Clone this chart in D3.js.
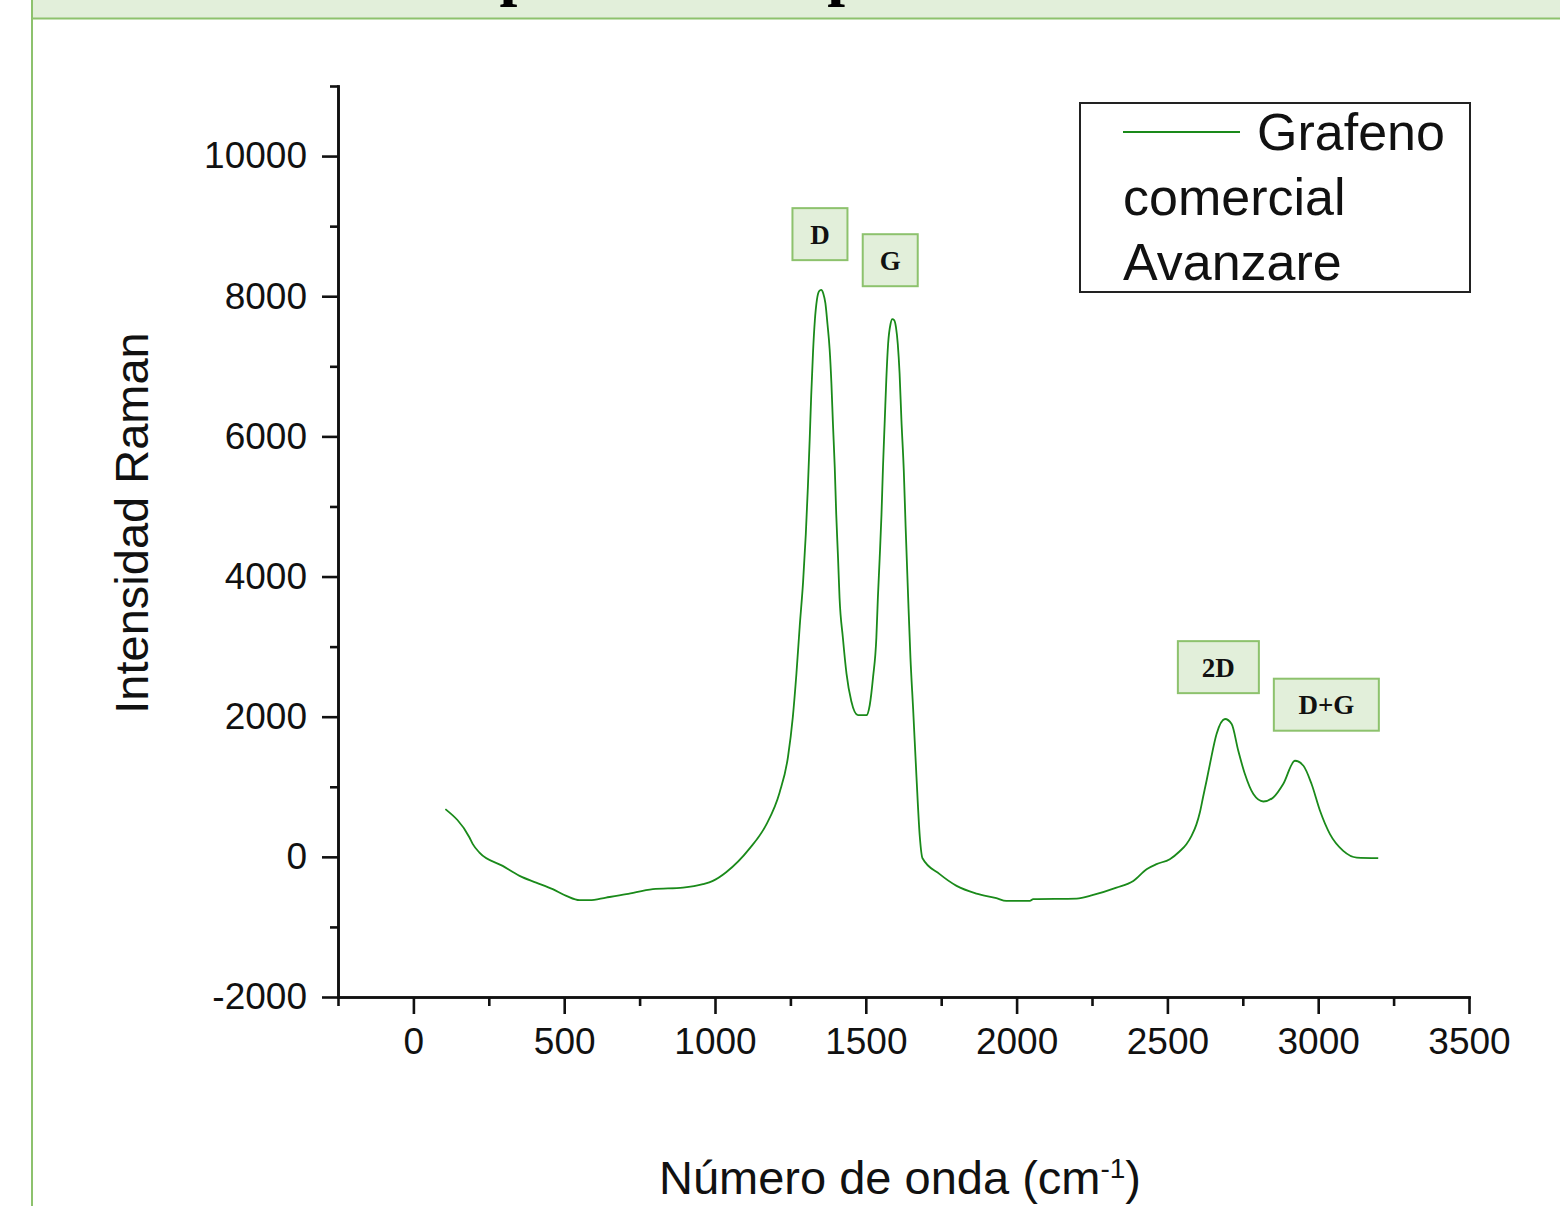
<!DOCTYPE html>
<html>
<head>
<meta charset="utf-8">
<script src="https://cdnjs.cloudflare.com/ajax/libs/d3/7.8.5/d3.min.js"></script>
<style>
  body { margin: 0; background: #fff; }
  svg { display: block; }
  .axis text { font-family: "Liberation Sans", Arial, sans-serif; font-size: 37px; fill: #111; }
  .axis path, .axis line { stroke: #111; stroke-width: 2.6px; }
  .label { font-family: "Liberation Sans", Arial, sans-serif; font-size: 47px; fill: #111; }
  .legend text { font-family: "Liberation Sans", Arial, sans-serif; font-size: 52px; fill: #111; }
  .peak text { font-family: "Liberation Serif", "Times New Roman", serif; font-weight: bold; font-size: 27px; fill: #111; }
</style>
</head>
<body>
<div class="RamanChart"></div>
<script>
// Raman spectrum of commercial graphene
var wavenumber = [106, 186, 197, 219, 296, 352, 407, 462, 507, 551, 584, 639, 706, 794, 894, 960, 993,
  1037, 1115, 1170, 1214, 1242, 1258, 1270, 1281, 1292, 1301, 1308, 1314, 1319, 1325, 1331, 1338,
  1345, 1352, 1359, 1366, 1373, 1380, 1386, 1391, 1397, 1402, 1408, 1413, 1424, 1436, 1452, 1474,
  1502, 1513, 1524, 1535, 1540, 1546, 1552, 1557, 1563, 1568, 1574, 1582, 1588, 1594, 1600, 1606,
  1612, 1618, 1626, 1632, 1640, 1648, 1657, 1668, 1679, 1688, 1745, 1801, 1867, 1933, 1966, 2044,
  2055, 2199, 2254, 2331, 2387, 2431, 2464, 2508, 2541, 2563, 2580, 2596, 2608, 2618, 2630, 2641,
  2663, 2691, 2713, 2735, 2757, 2785, 2818, 2851, 2884, 2923, 2951, 2978, 3006, 3039, 3083, 3128, 3199];
var intensity = [681, 276, 181, 61, -129, -271, -367, -461, -557, -619, -619, -581, -533, -461, -439, -390, -343,
  -219, 121, 461, 916, 1426, 1993, 2616, 3297, 3920, 4600, 5281, 5961, 6584, 7200, 7650, 7950,
  8070, 8090, 8040, 7900, 7600, 7250, 6754, 6187, 5564, 4884, 4260, 3693, 3127, 2616, 2220, 2021,
  2021, 2163, 2560, 3127, 3693, 4260, 4884, 5564, 6244, 6811, 7321, 7604, 7673, 7660, 7560, 7320,
  6900, 6244, 5507, 4714, 3750, 2843, 2106, 1143, 291, -20, -247, -414, -524, -590, -629, -629,
  -604, -596, -543, -439, -343, -176, -104, -33, 80, 181, 300, 460, 640, 847, 1090, 1324,
  1753, 1967, 1896, 1514, 1181, 896, 790, 847, 1039, 1371, 1300, 1039, 657, 324, 86, -10, -19];

var peakLabels = ["D", "G", "2D", "D+G"];
var peakLabelX = [1348, 1581, 2669, 3027];
var peakLabelY = [8886, 8514, 2707, 2171];

var xTicks = [0, 500, 1000, 1500, 2000, 2500, 3000, 3500];
var xMinorTicks = [-250, 250, 750, 1250, 1750, 2250, 2750, 3250];
var yTicks = [-2000, 0, 2000, 4000, 6000, 8000, 10000];
var yMinorTicks = [-1000, 1000, 3000, 5000, 7000, 9000, 11000];

var legendLines = ["Grafeno", "comercial", "Avanzare"];
var titleText = "Espectros comparados";

var lineColor = "#1a8a1a";
var boxFill = "#e2efda", boxStroke = "#8dc26d";
// label box widths in px
var boxWidth = {"D": 55, "G": 55, "2D": 81, "D+G": 105};

var W = 1560, H = 1206;
var margin = {top: 86, right: 91, bottom: 209, left: 338},
    width = W - margin.left - margin.right,
    height = H - margin.top - margin.bottom;

var root = d3.select(".RamanChart").append("svg")
    .attr("width", W)
    .attr("height", H);

// page frame: green heading band and left rule
root.append("rect")
    .attr("x", 32).attr("y", 0)
    .attr("width", W - 32).attr("height", 18)
    .attr("fill", boxFill);
root.append("text")
    .attr("x", 432).attr("y", -7)
    .style("font-family", "'Liberation Serif', 'Times New Roman', serif")
    .style("font-weight", "bold")
    .style("font-size", "64px")
    .attr("fill", "#000")
    .text(titleText);
root.append("line")
    .attr("x1", 32).attr("x2", W)
    .attr("y1", 18.5).attr("y2", 18.5)
    .attr("stroke", boxStroke).attr("stroke-width", 2);
root.append("line")
    .attr("x1", 32).attr("x2", 32)
    .attr("y1", 0).attr("y2", H)
    .attr("stroke", boxStroke).attr("stroke-width", 2);

var svg = root.append("g")
    .attr("transform", "translate(" + margin.left + "," + margin.top + ")");

var x = d3.scaleLinear()
    .domain([-250, 3500])
    .range([0, width]);

var y = d3.scaleLinear()
    .domain([-2000, 11000])
    .range([height, 0]);

// minor ticks first, then the major axes on top
svg.append("g")
    .attr("class", "x axis minor")
    .attr("transform", "translate(0," + height + ")")
    .call(d3.axisBottom(x).tickValues(xMinorTicks).tickSize(9).tickSizeOuter(0).tickFormat(""));

svg.append("g")
    .attr("class", "y axis minor")
    .call(d3.axisLeft(y).tickValues(yMinorTicks).tickSize(8).tickSizeOuter(0).tickFormat(""));

svg.append("g")
    .attr("class", "x axis")
    .attr("transform", "translate(0," + height + ")")
    .call(d3.axisBottom(x).tickValues(xTicks).tickSize(17).tickSizeOuter(0).tickPadding(14).tickFormat(d3.format("d")));

svg.append("g")
    .attr("class", "y axis")
    .call(d3.axisLeft(y).tickValues(yTicks).tickSize(16).tickSizeOuter(0).tickPadding(15).tickFormat(function(d){ return d < 0 ? "-" + Math.abs(d) : d; }));

svg.selectAll(".axis path").attr("stroke-linecap", "square");

// the spectrum
var spectrum = wavenumber.map(function(d, i){ return {x: d, y: intensity[i]}; });

var line = d3.line()
    .x(function(d){ return x(d.x); })
    .y(function(d){ return y(d.y); })
    .curve(d3.curveMonotoneX);

svg.append("path")
    .datum(spectrum)
    .attr("fill", "none")
    .attr("stroke", lineColor)
    .attr("stroke-width", 1.8)
    .attr("stroke-linejoin", "round")
    .attr("d", line);

// peak labels
var peaks = svg.selectAll(".peak")
    .data(peakLabels)
    .enter().append("g")
    .attr("class", "peak")
    .attr("transform", function(d, i){ return "translate(" + x(peakLabelX[i]) + "," + y(peakLabelY[i]) + ")"; });

peaks.append("rect")
    .attr("x", function(d){ return -boxWidth[d] / 2; })
    .attr("y", -26)
    .attr("width", function(d){ return boxWidth[d]; })
    .attr("height", 52)
    .attr("fill", boxFill)
    .attr("stroke", boxStroke)
    .attr("stroke-width", 2);

peaks.append("text")
    .attr("text-anchor", "middle")
    .attr("dy", "0.36em")
    .text(function(d){ return d; });

// axis titles
svg.append("text")
    .attr("class", "label")
    .attr("text-anchor", "middle")
    .attr("transform", "translate(" + (148 - margin.left) + "," + (523 - margin.top) + ")rotate(-90)")
    .text("Intensidad Raman");

var xl = svg.append("text")
    .attr("class", "label")
    .attr("text-anchor", "middle")
    .attr("transform", "translate(" + (900 - margin.left) + "," + (1194 - margin.top) + ")");
xl.append("tspan").text("Número de onda (cm");
xl.append("tspan").attr("dy", -16).style("font-size", "28px").text("-1");
xl.append("tspan").attr("dy", 16).text(")");

// legend
var legend = root.append("g").attr("class", "legend");
legend.append("rect")
    .attr("x", 1080).attr("y", 103)
    .attr("width", 390).attr("height", 189)
    .attr("fill", "#fff")
    .attr("stroke", "#222")
    .attr("stroke-width", 2);
legend.append("line")
    .attr("x1", 1123).attr("x2", 1240)
    .attr("y1", 132).attr("y2", 132)
    .attr("stroke", lineColor)
    .attr("stroke-width", 2);
legend.selectAll(".entry")
    .data(legendLines)
    .enter().append("text")
    .attr("class", "entry")
    .attr("x", function(d, i){ return i == 0 ? 1257 : 1123; })
    .attr("y", function(d, i){ return 150 + i * 65; })
    .text(function(d){ return d; });
</script>
</body>
</html>
